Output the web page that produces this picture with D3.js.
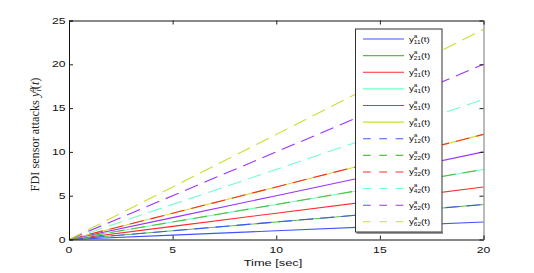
<!DOCTYPE html>
<html><head><meta charset="utf-8">
<script src="https://cdn.jsdelivr.net/npm/d3@7"></script>
<style>body{margin:0;background:#fff}svg{display:block}</style>
</head><body>
<svg id="c" width="534" height="273"></svg>
<script>
// ---- data ----
const time = [0, 5, 10, 15, 20];
const seriesNames = ["11","21","31","41","51","61","12","22","32","42","52","62"];
const y11 = [0, 0.5, 1, 1.5, 2];
const y21 = [0, 1, 2, 3, 4];
const y31 = [0, 1.5, 3, 4.5, 6];
const y41 = [0, 2, 4, 6, 8];
const y51 = [0, 2.5, 5, 7.5, 10];
const y61 = [0, 3, 6, 9, 12];
const y12 = [0, 1, 2, 3, 4];
const y22 = [0, 2, 4, 6, 8];
const y32 = [0, 3, 6, 9, 12];
const y42 = [0, 4, 8, 12, 16];
const y52 = [0, 5, 10, 15, 20];
const y62 = [0, 6, 12, 18, 24];
const seriesValues = [y11,y21,y31,y41,y51,y61,y12,y22,y32,y42,y52,y62];
const xTicks = [0, 5, 10, 15, 20];
const yTicks = [0, 5, 10, 15, 20, 25];
const palette = ["#3f55ff","#55c044","#ff2b2b","#70ffc8","#9b33ff","#c8e030"];

// ---- layout ----
const svg = d3.select("#c");
const L = 69, R = 483.5, T = 20.5, B = 239.5;
const x = d3.scaleLinear().domain([0,20]).range([L,R]);
const y = d3.scaleLinear().domain([0,25]).range([B,T]);
const SX = 1.45;
const sans = "'Liberation Sans', Arial, sans-serif";

function txt(g, px, py, s, size, anchor, sx){
  return g.append("text").attr("transform",`translate(${px},${py}) scale(${sx},1)`)
    .attr("text-anchor",anchor).attr("font-family",sans).attr("font-size",size)
    .attr("fill","#111").text(s);
}

// lines
const line = d3.line().x((d,i)=>x(time[i])).y(d=>y(d));
seriesValues.forEach((vals,k)=>{
  svg.append("path").datum(vals).attr("d",line).attr("fill","none")
    .attr("stroke",palette[k%6]).attr("stroke-width",1.1)
    .attr("stroke-dasharray", k>=6 ? "14,7" : null);
});

// axes (MATLAB style, inward ticks, boxed)
const gx = svg.append("g").attr("transform",`translate(0,${B})`)
  .call(d3.axisBottom(x).tickValues(xTicks).tickSize(-4).tickFormat(""));
const gxt = svg.append("g").attr("transform",`translate(0,${T})`)
  .call(d3.axisTop(x).tickValues(xTicks).tickSize(-4).tickFormat(""));
const gy = svg.append("g").attr("transform",`translate(${L},0)`)
  .call(d3.axisLeft(y).tickValues(yTicks).tickSize(-4).tickFormat(""));
const gyr = svg.append("g").attr("transform",`translate(${R},0)`)
  .call(d3.axisRight(y).tickValues(yTicks).tickSize(-4).tickFormat(""));
[gx,gxt,gy,gyr].forEach(g=>{
  g.selectAll("path").attr("stroke","#111").attr("stroke-width",1);
  g.selectAll("line").attr("stroke","#222");
});
gyr.select("path").attr("stroke","#777");

// tick labels
xTicks.forEach(v=>txt(svg, x(v), 252.5, v, 8.4, "middle", SX));
yTicks.forEach(v=>txt(svg, 65.5, y(v)+3, v, 8.4, "end", SX));

// x label
txt(svg, 273, 266, "Time [sec]", 9.3, "middle", 1.38);

// y label (serif, rotated)
const yl = svg.append("text").attr("font-family","'Liberation Serif', 'Times New Roman', serif")
  .attr("font-size",12).attr("fill","#222").attr("text-anchor","middle");
yl.append("tspan").text("FDI sensor attacks ");
yl.append("tspan").attr("font-style","italic").text("y");
yl.append("tspan").attr("font-style","italic").attr("font-size",8).attr("dy",-4.5).text("a");
yl.append("tspan").attr("font-style","italic").attr("font-size",8).attr("dx",-3.8).attr("dy",7).text("i");
yl.append("tspan").attr("dy",-2.5).text("(");
yl.append("tspan").attr("font-style","italic").text("t");
yl.append("tspan").text(")");
const yLen = yl.node().getComputedTextLength();
yl.attr("transform",`translate(38.5,134.5) rotate(-90) scale(${118/yLen},1)`);

// legend
const lg = svg.append("g");
const lx0 = 355.5, lx1 = 442, ly0 = 29, ly1 = 232;
lg.append("line").attr("x1",lx0+1).attr("x2",lx1+1).attr("y1",ly1+1).attr("y2",ly1+1)
  .attr("stroke","#999").attr("stroke-width",2);
lg.append("rect").attr("x",lx0).attr("y",ly0).attr("width",lx1-lx0).attr("height",ly1-ly0)
  .attr("fill","#fff").attr("stroke","#333").attr("stroke-width",1);
const ly = d3.scaleLinear().domain([0,11]).range([39,221.8]);
seriesNames.forEach((nm,k)=>{
  const yy = ly(k);
  lg.append("line").attr("x1",363).attr("x2",404).attr("y1",yy).attr("y2",yy)
    .attr("stroke",palette[k%6]).attr("stroke-width",1.1)
    .attr("stroke-dasharray", k>=6 ? "7.7,8.6" : null);
  const t = lg.append("text").attr("transform",`translate(409,${yy+2.5}) scale(1.3,1)`)
    .attr("font-family",sans).attr("font-size",7.5).attr("fill","#111");
  t.append("tspan").text("y");
  t.append("tspan").attr("font-size",5).attr("dy",-4).text("a");
  t.append("tspan").attr("font-size",5).attr("dx",-2.8).attr("dy",6).text(nm);
  t.append("tspan").attr("dy",-2).text("(t)");
});
</script>
</body></html>
